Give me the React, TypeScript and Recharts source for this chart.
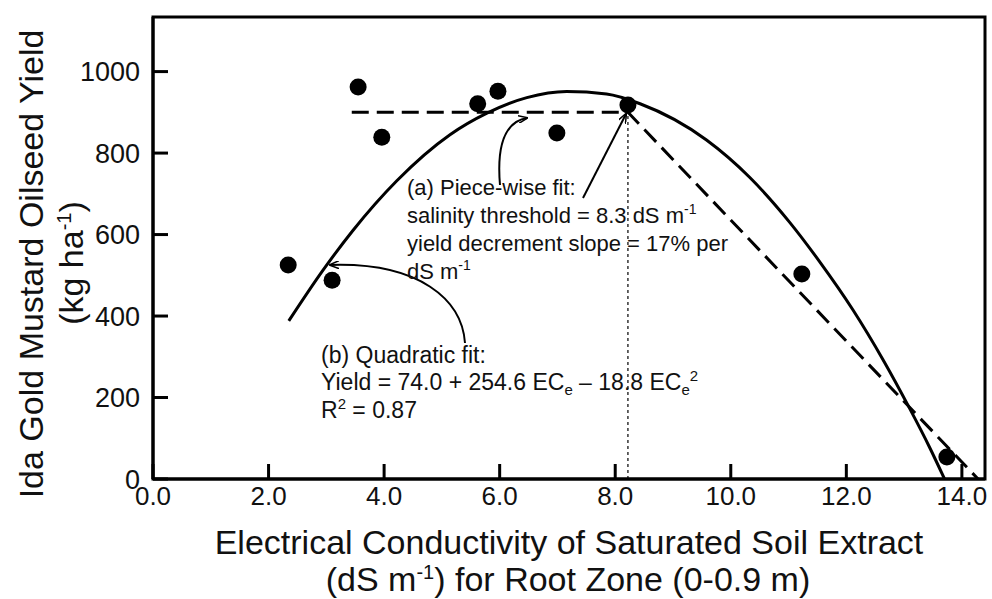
import { ComposedChart, Line, Scatter, XAxis, YAxis, ReferenceArea } from 'recharts';

// observed yields
const obsEC = [2.34, 3.1, 3.55, 3.96, 5.62, 5.97, 6.99, 8.22, 11.23, 13.74];
const obsYield = [525, 488, 962, 839, 921, 952, 849, 918, 503, 54];

// quadratic fit curve
const quadEC = [2.35, 2.94, 3.46, 4.22, 5.14, 5.78, 6.47, 7.16, 7.85, 8.43, 9.58, 10.33, 11.02, 11.54, 12.11, 12.63, 13.1, 13.44, 13.7];
const quadYield = [388, 512, 610, 732, 845, 898, 936, 951, 945, 921, 832, 740, 630, 533, 416, 294, 172, 78, 0];

// piece-wise fit
const pieceEC = [3.44, 8.22, 14.28];
const pieceYield = [900, 900, 0];

// threshold marker
const thresholdEC = [8.22, 8.22];
const thresholdYield = [0, 918];

const xTicks = [0, 2, 4, 6, 8, 10, 12, 14];
const yTicks = [0, 200, 400, 600, 800, 1000];

const zip = (xs: number[], ys: number[]) => xs.map((x, i) => ({ x, y: ys[i] }));
const obsData = zip(obsEC, obsYield);
const quadData = zip(quadEC, quadYield);
const pieceData = zip(pieceEC, pieceYield);
const thresholdData = zip(thresholdEC, thresholdYield);

const FONT = '"Liberation Sans", Arial, sans-serif';

const XTick = (p: any) => (
    <text x={p.x} y={505} textAnchor="middle" fontSize={26} fontFamily={FONT} fill="#111">
        {p.payload.value.toFixed(1)}
    </text>
);

const YTick = (p: any) => (
    <text x={140} y={p.y + 9.5} textAnchor="end" fontSize={27} fontFamily={FONT} fill="#111">
        {p.payload.value}
    </text>
);

const Annotations = () => (
    <svg width={992} height={599} style={{ position: 'absolute', left: 0, top: 0, pointerEvents: 'none' }}>
        <defs>
            <marker id="arr" markerWidth="10" markerHeight="8" refX="9" refY="4" orient="auto" markerUnits="userSpaceOnUse">
                <path d="M0,0 L10,4 L0,8" fill="none" stroke="#000" strokeWidth={1.5} />
            </marker>
        </defs>
        <g fill="none" stroke="#000" strokeWidth={2}>
            <path d="M500,185 C497,150 503,122 527,118" markerEnd="url(#arr)" />
            <path d="M583,198 L626,114" markerEnd="url(#arr)" />
            <path d="M465,343 C462,300 420,262 330,265" markerEnd="url(#arr)" />
        </g>
        <g fontFamily={FONT} fontSize={22} fill="#111">
            <text x={407} y={195}>(a) Piece-wise fit:</text>
            <text x={407} y={223}>
                salinity threshold = 8.3 dS m<tspan fontSize={14} dy={-9}>-1</tspan>
            </text>
            <text x={407} y={251}>yield decrement slope = 17% per</text>
            <text x={407} y={279}>
                dS m<tspan fontSize={14} dy={-9}>-1</tspan>
            </text>
        </g>
        <g fontFamily={FONT} fontSize={23} fill="#111">
            <text x={321} y={363}>(b) Quadratic fit:</text>
            <text x={321} y={390}>
                Yield = 74.0 + 254.6 EC<tspan fontSize={15} dy={5}>e</tspan>
                <tspan dy={-5}> – 18.8 EC</tspan>
                <tspan fontSize={15} dy={5}>e</tspan>
                <tspan fontSize={15} dy={-14}>2</tspan>
            </text>
            <text x={321} y={418}>
                R<tspan fontSize={15} dy={-9}>2</tspan>
                <tspan dy={9}> = 0.87</tspan>
            </text>
        </g>
        <g fontFamily={FONT} fontSize={34} fill="#111" textAnchor="middle">
            <text transform="translate(43,264) rotate(-90)">Ida Gold Mustard Oilseed Yield</text>
            <text transform="translate(83,263) rotate(-90)">
                (kg ha<tspan fontSize={20} dy={-12}>-1</tspan>
                <tspan dy={12}>)</tspan>
            </text>
            <text x={569} y={554}>Electrical Conductivity of Saturated Soil Extract</text>
            <text x={568} y={591}>
                (dS m<tspan fontSize={20} dy={-12}>-1</tspan>
                <tspan dy={12}>) for Root Zone (0-0.9 m)</tspan>
            </text>
        </g>
    </svg>
);

export default function App() {
    return (
        <div style={{ position: 'absolute', left: 0, top: 0, width: 992, height: 599, background: '#fff' }}>
            <ComposedChart width={992} height={599} margin={{ top: 17, right: 7, bottom: 90, left: 93 }}>
                <XAxis
                    type="number"
                    dataKey="x"
                    domain={[0, 14.4]}
                    ticks={xTicks}
                    allowDataOverflow
                    height={30}
                    axisLine={{ stroke: '#000', strokeWidth: 3 }}
                    tickLine={{ stroke: '#000', strokeWidth: 3 }}
                    tickSize={-15}
                    tick={XTick}
                />
                <YAxis
                    type="number"
                    dataKey="y"
                    domain={[0, 1134]}
                    ticks={yTicks}
                    allowDataOverflow
                    width={60}
                    axisLine={{ stroke: '#000', strokeWidth: 3 }}
                    tickLine={{ stroke: '#000', strokeWidth: 3 }}
                    tickSize={-15}
                    tick={YTick}
                />
                <ReferenceArea x1={0} x2={14.4} y1={0} y2={1134} fill="none" stroke="#000" strokeWidth={3} />
                <Line data={thresholdData} dataKey="y" type="linear" stroke="#000" strokeWidth={1.2} strokeDasharray="3 3" dot={false} isAnimationActive={false} />
                <Line data={pieceData} dataKey="y" type="linear" stroke="#000" strokeWidth={3} strokeDasharray="17 8" dot={false} isAnimationActive={false} />
                <Line data={quadData} dataKey="y" type="monotone" stroke="#000" strokeWidth={3} dot={false} isAnimationActive={false} />
                <Scatter data={obsData} dataKey="y" fill="#000" shape={(p: any) => <circle cx={p.cx} cy={p.cy} r={8.5} fill="#000" />} isAnimationActive={false} />
            </ComposedChart>
            <Annotations />
        </div>
    );
}
